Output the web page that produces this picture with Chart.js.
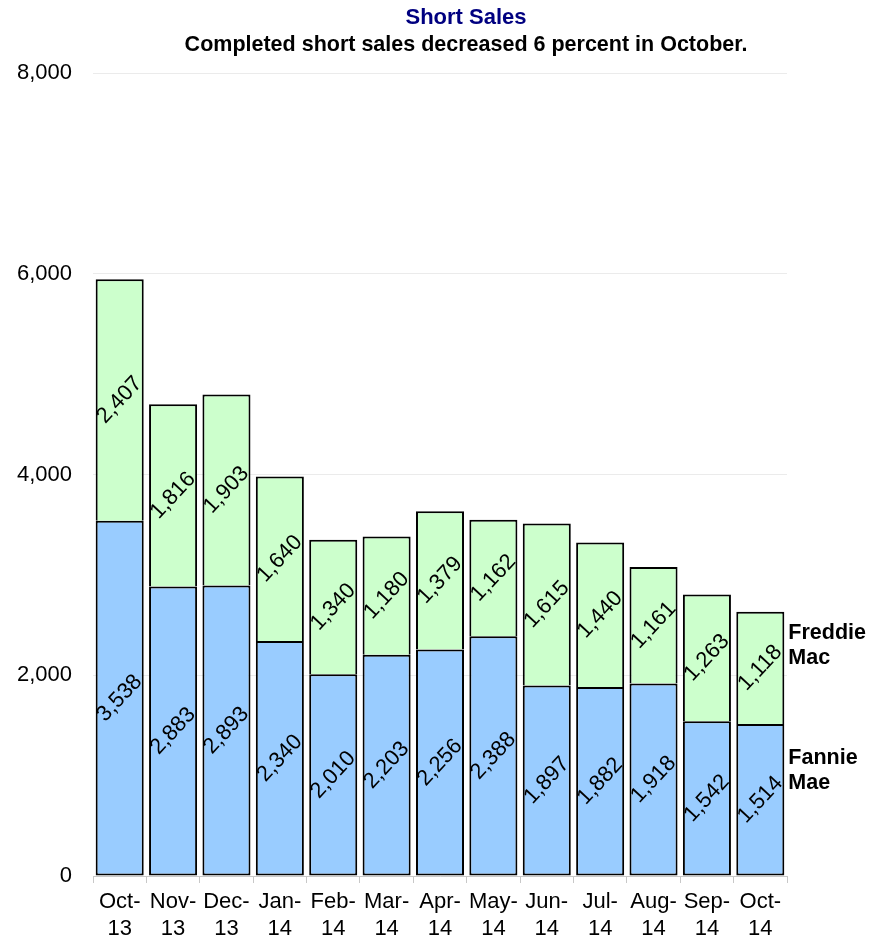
<!DOCTYPE html>
<html>
<head>
<meta charset="utf-8">
<script src="https://cdn.jsdelivr.net/npm/chart.js@4.4.1/dist/chart.umd.min.js"></script>
<style>
  html, body { margin: 0; padding: 0; background: #fff; }
  #wrap { width: 870px; height: 938px; }
</style>
</head>
<body>
<div id="wrap"><canvas id="c" width="870" height="938"></canvas></div>
<script>
const categories = ['Oct-13','Nov-13','Dec-13','Jan-14','Feb-14','Mar-14','Apr-14','May-14','Jun-14','Jul-14','Aug-14','Sep-14','Oct-14'];
const fannieMae  = [3538, 2883, 2893, 2340, 2010, 2203, 2256, 2388, 1897, 1882, 1918, 1542, 1514];
const freddieMac = [2407, 1816, 1903, 1640, 1340, 1180, 1379, 1162, 1615, 1440, 1161, 1263, 1118];
const yTicks = [0, 2000, 4000, 6000, 8000];
const titleText = 'Short Sales';
const subtitleText = 'Completed short sales decreased 6 percent in October.';

const FONT = '"Liberation Sans", Arial, Helvetica, sans-serif';
const fmt = v => Number(v).toLocaleString('en-US');

const labelPlugin = {
  id: 'segLabels',
  afterDatasetsDraw(chart) {
    const ctx = chart.ctx;
    ctx.save();
    ctx.font = '22px ' + FONT;
    ctx.fillStyle = '#000';
    ctx.textAlign = 'center';
    ctx.textBaseline = 'middle';
    chart.data.datasets.forEach((ds, di) => {
      const meta = chart.getDatasetMeta(di);
      meta.data.forEach((bar, i) => {
        const x = bar.x, y = (bar.y + bar.base) / 2;
        ctx.save();
        ctx.translate(x, y);
        ctx.rotate(-47 * Math.PI / 180);
        ctx.fillText(fmt(ds.data[i]), 0, 0);
        ctx.restore();
      });
    });
    // series names at right of last bar
    const ys = chart.scales.y;
    const last = categories.length - 1;
    const lastBar = chart.getDatasetMeta(0).data[last];
    const xr = lastBar.x + lastBar.width / 2 + 4;
    ctx.font = 'bold 21.5px ' + FONT;
    ctx.textAlign = 'left';
    const fy = ys.getPixelForValue(fannieMae[last] + freddieMac[last] * 0.7);
    ctx.fillText('Freddie', xr, fy - 12);
    ctx.fillText('Mac', xr, fy + 13);
    const my = ys.getPixelForValue(fannieMae[last] * 0.7);
    ctx.fillText('Fannie', xr, my - 12);
    ctx.fillText('Mae', xr, my + 13);
    // titles
    ctx.textAlign = 'center';
    ctx.fillStyle = '#000080';
    ctx.font = 'bold 22px ' + FONT;
    ctx.fillText(titleText, 466, 18);
    ctx.fillStyle = '#000';
    ctx.font = 'bold 21.5px ' + FONT;
    ctx.fillText(subtitleText, 466, 45);
    ctx.restore();
  }
};

new Chart(document.getElementById('c'), {
  type: 'bar',
  data: {
    labels: categories,
    datasets: [
      { label: 'Fannie Mae', data: fannieMae, backgroundColor: '#99CCFF', borderColor: '#000', borderWidth: 2, borderSkipped: false },
      { label: 'Freddie Mac', data: freddieMac, backgroundColor: '#CCFFCC', borderColor: '#000', borderWidth: 2, borderSkipped: 'start' }
    ]
  },
  options: {
    responsive: false,
    animation: false,
    devicePixelRatio: 1,
    categoryPercentage: 1,
    barPercentage: 0.9,
    layout: { padding: { top: 73, right: 83, left: 0, bottom: 0 } },
    plugins: { legend: { display: false }, title: { display: false }, tooltip: { enabled: false } },
    scales: {
      x: {
        stacked: true,
        afterFit(s) { s.height = 62; },
        grid: { drawOnChartArea: false, drawTicks: true, tickLength: 7, color: '#c8c8c8', offset: true },
        border: { display: true, color: '#c8c8c8', width: 1 },
        ticks: {
          color: '#000', font: { family: FONT, size: 22 }, padding: 6, maxRotation: 0, autoSkip: false,
          callback(v, i) { const p = categories[i].split('-'); return [p[0] + '-', p[1]]; }
        }
      },
      y: {
        stacked: true,
        min: yTicks[0], max: yTicks[yTicks.length - 1],
        afterFit(s) { s.width = 93; },
        afterBuildTicks(s) { s.ticks = yTicks.map(v => ({ value: v })); },
        grid: { color: '#ebebeb', drawTicks: false, lineWidth: 1 },
        border: { display: false },
        ticks: { color: '#000', font: { family: FONT, size: 22 }, padding: 21, callback: v => fmt(v) }
      }
    }
  },
  plugins: [labelPlugin]
});
</script>
</body>
</html>
